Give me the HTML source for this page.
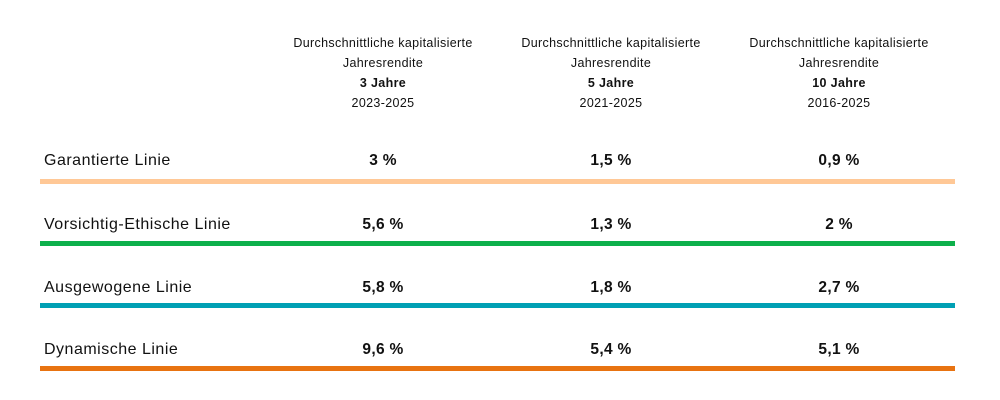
<!DOCTYPE html>
<html><head><meta charset="utf-8"><style>
body{margin:0;width:1000px;height:400px;background:#fff;position:relative;font-family:"Liberation Sans",sans-serif;color:#111;overflow:hidden}
.h{position:absolute;width:280px;text-align:center;font-size:12.5px;letter-spacing:0.35px;line-height:20px;top:33px}
.l{position:absolute;left:44px;font-size:16px;letter-spacing:0.5px}
.v{position:absolute;width:120px;text-align:center;font-size:15.5px;font-weight:bold;letter-spacing:0.3px}
.bar{position:absolute;left:40px;width:915px;height:5px}
</style></head><body>
<div class="h" style="left:243px">Durchschnittliche kapitalisierte<br>Jahresrendite<br><b>3 Jahre</b><br>2023-2025</div>
<div class="h" style="left:471px">Durchschnittliche kapitalisierte<br>Jahresrendite<br><b>5 Jahre</b><br>2021-2025</div>
<div class="h" style="left:699px">Durchschnittliche kapitalisierte<br>Jahresrendite<br><b>10 Jahre</b><br>2016-2025</div>

<div class="l" style="top:152px">Garantierte Linie</div>
<div class="v" style="left:323px;top:152px">3 %</div>
<div class="v" style="left:551px;top:152px">1,5 %</div>
<div class="v" style="left:779px;top:152px">0,9 %</div>
<div class="bar" style="top:179px;background:#FFC896"></div>

<div class="l" style="top:216px">Vorsichtig-Ethische Linie</div>
<div class="v" style="left:323px;top:216px">5,6 %</div>
<div class="v" style="left:551px;top:216px">1,3 %</div>
<div class="v" style="left:779px;top:216px">2 %</div>
<div class="bar" style="top:241px;background:#0DB04B"></div>

<div class="l" style="top:279px">Ausgewogene Linie</div>
<div class="v" style="left:323px;top:279px">5,8 %</div>
<div class="v" style="left:551px;top:279px">1,8 %</div>
<div class="v" style="left:779px;top:279px">2,7 %</div>
<div class="bar" style="top:303px;background:#00A0B4"></div>

<div class="l" style="top:341px">Dynamische Linie</div>
<div class="v" style="left:323px;top:341px">9,6 %</div>
<div class="v" style="left:551px;top:341px">5,4 %</div>
<div class="v" style="left:779px;top:341px">5,1 %</div>
<div class="bar" style="top:366px;background:#E87311"></div>
</body></html>
